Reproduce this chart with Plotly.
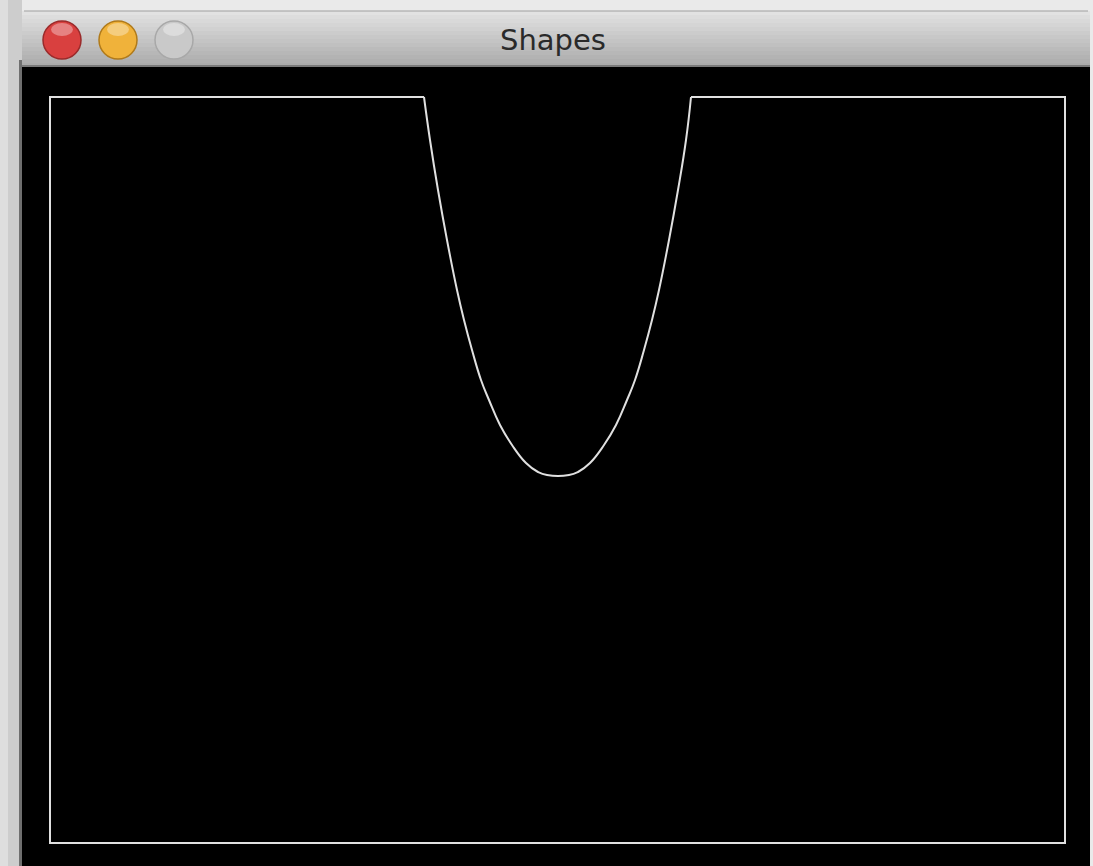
import plotly.graph_objects as go

W, H = 1093, 866

# Outline of the drawn shape (screen pixel coordinates, y downward)
frame_x = [424, 50, 50, 1065, 1065, 691]
frame_y = [97, 97, 843, 843, 97, 97]

curve_x = [424, 430, 438, 447, 457, 464, 472, 481, 489, 500, 512, 526, 538, 547,
           569, 578, 590, 604, 616, 627, 635, 644, 652, 659, 669, 678, 686, 691]
curve_y = [97, 140, 190, 240, 290, 320, 350, 380, 400, 425, 445, 463, 472, 475,
           475, 472, 463, 445, 425, 400, 380, 350, 320, 290, 240, 190, 140, 97]

window_title = "Shapes"
button_colors = ["#d9403f", "#f0b23a", "#c9c9c9"]
button_edges = ["#9a2a2a", "#b07a1a", "#a8a8a8"]
button_cx = [62, 118, 174]

fig = go.Figure()

shapes = []
# desktop / shadow strips
shapes.append(dict(type="rect", x0=0, x1=22, y0=0, y1=H, fillcolor="#cdcdcd", line_width=0, layer="below"))
shapes.append(dict(type="rect", x0=0, x1=8, y0=0, y1=H, fillcolor="#dedede", line_width=0, layer="below"))
shapes.append(dict(type="rect", x0=19, x1=22, y0=60, y1=H, fillcolor="#6f6f6f", line_width=0, layer="below"))
# title bar gradient bands
top, bot = 11, 67
n = 14
c0, c1 = (0xe2, 0xe2, 0xe2), (0xab, 0xab, 0xab)
for i in range(n):
    t = i / (n - 1)
    c = tuple(int(c0[k] + (c1[k] - c0[k]) * t) for k in range(3))
    y0 = top + (bot - top) * i / n
    y1 = top + (bot - top) * (i + 1) / n
    shapes.append(dict(type="rect", x0=22, x1=1090, y0=y0, y1=y1 + 0.5,
                       fillcolor="rgb(%d,%d,%d)" % c, line_width=0, layer="below"))
shapes.append(dict(type="line", x0=24, x1=1088, y0=11, y1=11, line=dict(color="#a0a0a0", width=1), layer="below"))
shapes.append(dict(type="line", x0=22, x1=1090, y0=66, y1=66, line=dict(color="#6a6a6a", width=1.5), layer="below"))
# black canvas
shapes.append(dict(type="rect", x0=22, x1=1090, y0=67, y1=H + 2, fillcolor="#000000", line_width=0, layer="below"))
# traffic-light buttons
for cx, fc, ec in zip(button_cx, button_colors, button_edges):
    shapes.append(dict(type="circle", x0=cx - 19, x1=cx + 19, y0=40 - 19, y1=40 + 19,
                       fillcolor=fc, line=dict(color=ec, width=1.5), layer="below"))
    shapes.append(dict(type="circle", x0=cx - 11, x1=cx + 11, y0=23, y1=36,
                       fillcolor="rgba(255,255,255,0.35)", line_width=0, layer="below"))

fig.add_trace(go.Scatter(x=frame_x, y=frame_y, mode="lines",
                         line=dict(color="#e0e0e0", width=2), hoverinfo="skip", showlegend=False))
fig.add_trace(go.Scatter(x=curve_x, y=curve_y, mode="lines",
                         line=dict(color="#e0e0e0", width=2, shape="spline", smoothing=1.3),
                         hoverinfo="skip", showlegend=False))

fig.update_layout(
    width=W, height=H,
    margin=dict(l=0, r=0, t=0, b=0),
    paper_bgcolor="#eaeaea",
    plot_bgcolor="rgba(0,0,0,0)",
    xaxis=dict(range=[0, W], visible=False, fixedrange=True),
    yaxis=dict(range=[H, 0], visible=False, fixedrange=True),
    shapes=shapes,
    annotations=[dict(x=553, y=40, xref="x", yref="y", text=window_title, showarrow=False,
                      font=dict(family="DejaVu Sans", size=29, color="#2a2a2a"))],
)

fig.write_html("out.html", config={"displayModeBar": False},
               post_script="document.body.style.margin='0';document.body.style.overflow='hidden';")
